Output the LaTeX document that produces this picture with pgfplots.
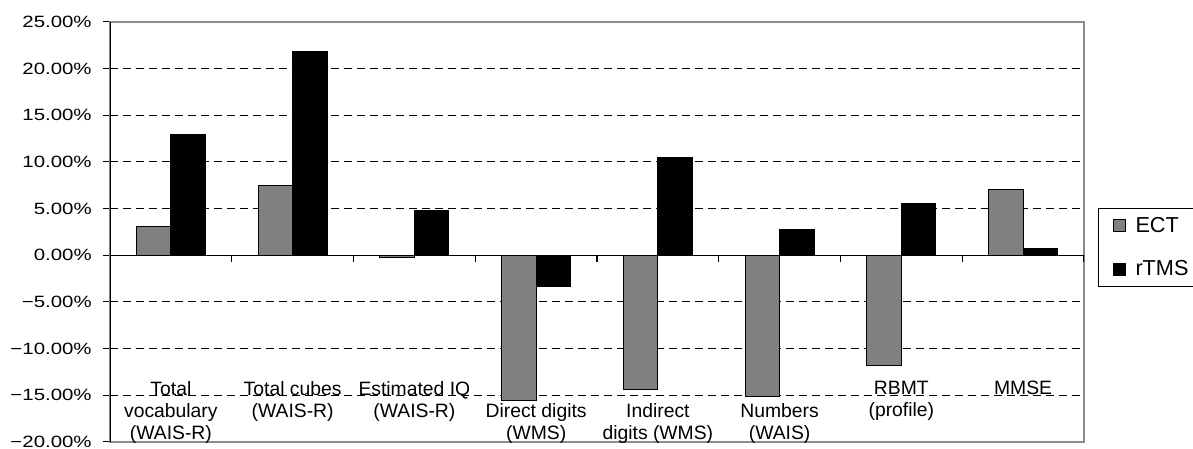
\documentclass[border=0pt]{standalone}
\usepackage{pgfplots}
\pgfplotsset{compat=1.18}
\usepackage{fontspec}
\setmainfont{Liberation Sans}
\newfontfamily\tickfont[FakeStretch=1.25]{Liberation Sans}
\definecolor{ectgray}{HTML}{808080}

\begin{document}
\begin{tikzpicture}
\begin{axis}[
  name=ax,
  scale only axis,
  width=584.4pt, height=252pt,
  xmin=0.5, xmax=8.5,
  ymin=-20, ymax=25,
  ytick={-20,-15,...,25},
  yticklabels={−20.00\%,−15.00\%,−10.00\%,−5.00\%,0.00\%,5.00\%,10.00\%,15.00\%,20.00\%,25.00\%},
  ytick pos=left,
  y tick label style={font=\tickfont\fontsize{9.8}{12}\selectfont, anchor=east, inner sep=0pt, xshift=-6.6pt},
  ymajorgrids,
  major grid style={black, dash pattern=on 4.8pt off 3pt, line width=0.6pt},
  xtick={1,...,8},
  xticklabels={{Total\\vocabulary\\(WAIS-R)},{Total cubes\\(WAIS-R)},{Estimated IQ\\(WAIS-R)},
    {\rule{0pt}{22pt}Direct digits\\(WMS)},{\rule{0pt}{22pt}Indirect\\digits (WMS)},
    {\rule{0pt}{22pt}Numbers\\(WAIS)},{RBMT\\(profile)},{MMSE}},
  x tick label style={font=\fontsize{11.6}{13.2}\selectfont, align=center, anchor=north, inner sep=0pt, yshift=41pt},
  xtick style={draw=none},
  ytick style={black, line width=0.6pt},
  tick align=outside,
  major tick length=4.2pt,
  axis line style={black!45, line width=0.8pt},
  ybar=0pt, bar width=20.7pt,
  legend style={at={(1,0.463)}, anchor=west, xshift=8.4pt, draw=black, line width=0.6pt,
    font=\fontsize{13}{15}\selectfont, row sep=11.6pt, inner xsep=8.4pt, inner ysep=3pt,
    /tikz/every odd column/.append style={column sep=4pt}},
  legend image code/.code={\draw[#1,line width=0.6pt] (0pt,-3.6pt) rectangle (7.2pt,3.6pt);},
  legend cell align=left,
]
\addplot[fill=ectgray, draw=black, line width=0.6pt] coordinates {
  (1,3.05) (2,7.5) (3,-0.25) (4,-15.6) (5,-14.4) (6,-15.1) (7,-11.8) (8,7.1)
};
\addplot[fill=black, draw=black, line width=0.6pt] coordinates {
  (1,12.95) (2,21.8) (3,4.85) (4,-3.3) (5,10.5) (6,2.75) (7,5.6) (8,0.75)
};
\legend{ECT\hspace*{20pt},rTMS\hspace*{20pt}}
\draw[black, line width=0.8pt] (axis cs:0.5,0) -- (axis cs:8.5,0);
\pgfplotsinvokeforeach{1,...,8}{\draw[black, line width=0.8pt] (axis cs:#1.5,0) -- ++(0pt,-4.2pt);}
\draw[black, line width=0.8pt] (rel axis cs:0,0) -- (rel axis cs:0,1);
\end{axis}
\pgfresetboundingbox
\path (ax.south west) ++(-66pt,-4.2pt) rectangle ++(715.8pt,269.4pt);
\end{tikzpicture}
\end{document}
